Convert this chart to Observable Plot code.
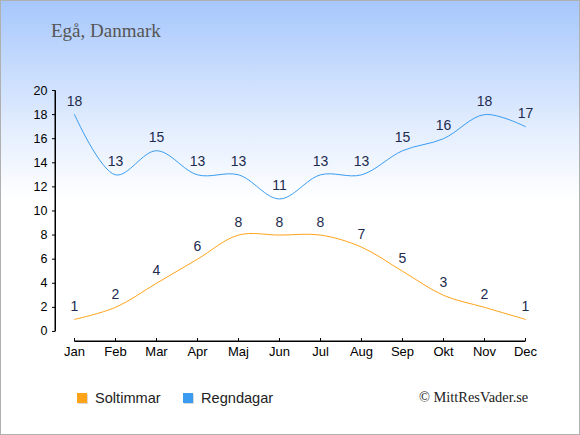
<!DOCTYPE html>
<html>
<head>
<meta charset="utf-8">
<script src="https://cdn.jsdelivr.net/npm/d3@7"></script>
<script src="https://cdn.jsdelivr.net/npm/@observablehq/plot@0.6"></script>
<style>
  html, body { margin: 0; padding: 0; }
  #chart {
    position: relative; width: 580px; height: 435px;
    background: linear-gradient(to bottom, #a6c7fc 0%, #e4eefe 30%, #ffffff 46%, #ffffff 100%);
    box-shadow: inset 0 0 0 1px #b0b0b0;
    overflow: hidden;
  }
  #chart > svg { position: absolute; left: 0; top: 0; }
  .title { position: absolute; left: 51px; top: 20px; font-family: "Liberation Serif", "Times New Roman", serif; font-size: 19px; color: #555; }
  .legend { position: absolute; top: 390px; font-family: "Liberation Sans", Arial, sans-serif; font-size: 14.6px; color: #222; display: flex; align-items: center; }
  .sw { width: 10px; height: 10px; margin-right: 8px; box-shadow: 1px 1px 0 rgba(0,0,0,0.15); }
  .copy { position: absolute; left: 419px; top: 389px; font-family: "Liberation Serif", "Times New Roman", serif; font-size: 14.4px; color: #222; }
</style>
</head>
<body>
<div id="chart">
  <div class="title">Egå, Danmark</div>
</div>
<script>
const months = ["Jan","Feb","Mar","Apr","Maj","Jun","Jul","Aug","Sep","Okt","Nov","Dec"];
const soltimmar = [1,2,4,6,8,8,8,7,5,3,2,1];
const regndagar = [18,13,15,13,13,11,13,13,15,16,18,17];
const yTicks = [0,2,4,6,8,10,12,14,16,18,20];
const seriesNames = ["Soltimmar","Regndagar"];
const seriesColors = ["#ffa31a","#3a9cf0"];

const idx = months.map((m, i) => i);
const sol = months.map((m,i) => ({i, value: soltimmar[i]}));
const rain = months.map((m,i) => ({i, value: regndagar[i]}));

// scale extents: the y axis sits a little left of Jan, the x axis a little below 0
const xMin = -19 / 41, xMax = idx[idx.length - 1];
const yMin = -10 / 12, yMax = yTicks[yTicks.length - 1];
const yAxisLine = [{xa: xMin, ya: yTicks[0], xb: xMin, yb: yMax}];
const xAxisLine = [{xa: idx[0], ya: yMin, xb: xMax, yb: yMin}];

const font = '"Liberation Sans", Arial, sans-serif';
const plot = Plot.plot({
  width: 580, height: 435,
  marginLeft: 55, marginRight: 55, marginTop: 90, marginBottom: 94,
  style: {background: "transparent", fontFamily: font, overflow: "visible"},
  x: {type: "linear", domain: [xMin, xMax]},
  y: {type: "linear", domain: [yMin, yMax]},
  marks: [
    Plot.rect(yAxisLine, {x1: "xa", x2: "xb", y1: "ya", y2: "yb", insetLeft: -0.5, insetRight: -0.5, fill: "#000"}),
    Plot.rect(xAxisLine, {x1: "xa", x2: "xb", y1: "ya", y2: "yb", insetTop: -0.5, insetBottom: -0.5, fill: "#000"}),
    Plot.link(yAxisLine.concat(xAxisLine), {x1: "xa", y1: "ya", x2: "xb", y2: "yb", stroke: "#000", strokeWidth: 1}),
    Plot.axisY(yTicks, {tickSize: 3, tickPadding: 5, fontSize: 12.5, fill: "#000", stroke: "#000", label: null}),
    Plot.axisX(idx, {tickSize: -3, tickFormat: () => "", stroke: "#000", label: null}),
    Plot.axisX(idx, {tickSize: 0, tickPadding: 5, tickFormat: i => months[i], fontSize: 13, fill: "#000", label: null}),
    Plot.line(sol, {x: "i", y: "value", stroke: seriesColors[0], strokeWidth: 1, curve: "catmull-rom"}),
    Plot.line(rain, {x: "i", y: "value", stroke: seriesColors[1], strokeWidth: 1, curve: "catmull-rom"}),
    Plot.text(sol, {x: "i", y: "value", text: d => String(d.value), dy: -13, fontSize: 14, fill: "#1c2b4e"}),
    Plot.text(rain, {x: "i", y: "value", text: d => String(d.value), dy: -13, fontSize: 14, fill: "#1c2b4e"})
  ]
});
const chart = document.getElementById("chart");
chart.appendChild(plot);

const lefts = [77, 183];
seriesNames.forEach((name, i) => {
  const lg = document.createElement("div");
  lg.className = "legend";
  lg.style.left = lefts[i] + "px";
  const sw = document.createElement("div");
  sw.className = "sw";
  sw.style.background = seriesColors[i];
  lg.appendChild(sw);
  const t = document.createElement("span");
  t.textContent = name;
  lg.appendChild(t);
  chart.appendChild(lg);
});
const copy = document.createElement("div");
copy.className = "copy";
copy.textContent = "© MittResVader.se";
chart.appendChild(copy);
</script>
</body>
</html>
